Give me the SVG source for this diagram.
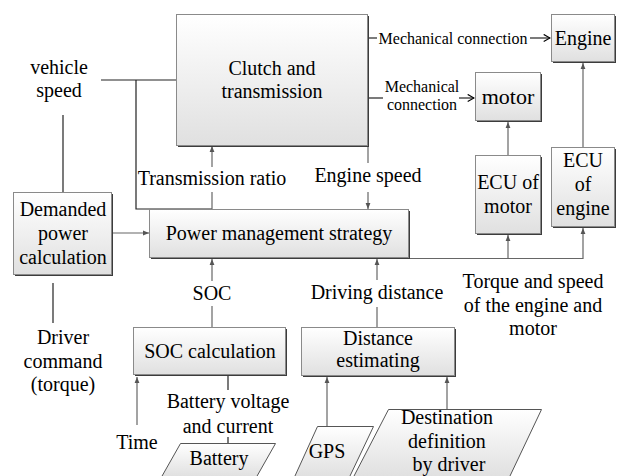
<svg xmlns="http://www.w3.org/2000/svg" width="624" height="476" viewBox="0 0 624 476" font-family="'Liberation Serif', 'Times New Roman', serif">
<defs>
<linearGradient id="g" x1="0" y1="0" x2="0" y2="1"><stop offset="0" stop-color="#ffffff"/><stop offset="1" stop-color="#e0e0e0"/></linearGradient>
<marker id="a" viewBox="0 0 10 10" refX="10" refY="5" markerWidth="6" markerHeight="6" markerUnits="userSpaceOnUse" orient="auto"><path d="M0,1 L10,5 L0,9 z" fill="#555"/></marker>
<marker id="m" viewBox="0 0 10 10" refX="9" refY="5" markerWidth="9" markerHeight="9" markerUnits="userSpaceOnUse" orient="auto"><path d="M2,1 L9,5 L2,9" fill="none" stroke="#000" stroke-width="1.3"/></marker>
</defs>
<style>
.box{fill:url(#g);stroke:#8a8a8a;stroke-width:1}
.sh{fill:#3c3c3c}
.para{fill:url(#g);stroke:#555;stroke-width:1}
text{font-family:'Liberation Serif','Times New Roman',serif;font-size:20px;fill:#000;text-anchor:middle}
.s{font-size:16px}
.c{fill:none;stroke:#666;stroke-width:1.2}
.k{fill:none;stroke:#222;stroke-width:1.2}
</style>

<g id="connectors">
<path class="k" d="M101,80 H176"/>
<path class="k" d="M136,80 V209 H212"/>
<path class="k" d="M63,115 V192"/>
<path class="c" d="M112,233 H149" marker-end="url(#a)"/>
<path class="k" d="M53,283 V323"/>
<path class="c" d="M212,209 V192"/>
<path class="c" d="M212,167 V146" marker-end="url(#a)"/>
<path class="c" d="M368,146 V163"/>
<path class="c" d="M368,192 V209" marker-end="url(#a)"/>
<path class="c" d="M212,327 V306"/>
<path class="c" d="M212,281 V259" marker-end="url(#a)"/>
<path class="c" d="M377,327 V307"/>
<path class="c" d="M377,280 V259" marker-end="url(#a)"/>
<path class="c" d="M410,258.5 H583 V228" marker-end="url(#a)"/>
<path class="c" d="M508,258.5 V235" marker-end="url(#a)"/>
<path class="c" d="M508,155 V122" marker-end="url(#a)"/>
<path class="c" d="M583,147 V63" marker-end="url(#a)"/>
<path class="k" d="M368,38 H377"/>
<path class="k" d="M530,38 H550" marker-end="url(#m)"/>
<path class="k" d="M368,98 H383"/>
<path class="k" d="M459,98 H474" marker-end="url(#m)"/>
<path class="k" d="M228,376 V390"/>
<path class="k" d="M228,437 V444"/>
<path class="c" d="M137,425 V377" marker-end="url(#a)"/>
<path class="c" d="M327,426 V377" marker-end="url(#a)"/>
<path class="c" d="M447,409 V377" marker-end="url(#a)"/>
</g>

<g id="clutch">
<rect class="sh" x="178" y="16" width="191" height="131"/>
<rect class="box" x="176.5" y="14.5" width="191" height="131"/>
<text x="272" y="75">Clutch and</text>
<text x="272" y="98">transmission</text>
</g>

<g id="engine">
<rect class="sh" x="553" y="16" width="63" height="47"/>
<rect class="box" x="551.5" y="14.5" width="63" height="47"/>
<text x="583" y="45">Engine</text>
</g>

<g id="motor">
<rect class="sh" x="477" y="74" width="65" height="48"/>
<rect class="box" x="475.5" y="72.5" width="65" height="48"/>
<text x="508" y="104" style="font-size:22px">motor</text>
</g>

<g id="ecu-motor">
<rect class="sh" x="477" y="157" width="65" height="78"/>
<rect class="box" x="475.5" y="155.5" width="65" height="78"/>
<text x="508" y="189">ECU of</text>
<text x="508" y="213">motor</text>
</g>

<g id="ecu-engine">
<rect class="sh" x="553" y="149" width="63" height="79"/>
<rect class="box" x="551.5" y="147.5" width="63" height="79"/>
<text x="583" y="167">ECU</text>
<text x="583" y="191">of</text>
<text x="583" y="215">engine</text>
</g>

<g id="power">
<rect class="sh" x="151" y="211" width="259" height="48"/>
<rect class="box" x="149.5" y="209.5" width="259" height="48"/>
<text x="279" y="240">Power management strategy</text>
</g>

<g id="demanded">
<rect class="sh" x="15" y="194" width="98" height="82"/>
<rect class="box" x="13.5" y="192.5" width="98" height="82"/>
<text x="63" y="216">Demanded</text>
<text x="63" y="240">power</text>
<text x="63" y="264">calculation</text>
</g>

<g id="soc-calc">
<rect class="sh" x="135" y="329" width="152" height="47"/>
<rect class="box" x="133.5" y="327.5" width="152" height="47"/>
<text x="210" y="358">SOC calculation</text>
</g>

<g id="distance">
<rect class="sh" x="303" y="329" width="153" height="48"/>
<rect class="box" x="301.5" y="327.5" width="153" height="48"/>
<text x="378" y="345">Distance</text>
<text x="378" y="367">estimating</text>
</g>

<g id="battery">
<polygon class="para" points="180.5,443.5 275.5,443.5 256.5,477 161.5,477"/>
<text x="219" y="465">Battery</text>
</g>

<g id="gps">
<polygon class="para" points="317.5,426.5 373.5,426.5 349.5,477 294.5,477"/>
<text x="327" y="458">GPS</text>
</g>

<g id="destination">
<polygon class="para" points="388.5,409.5 541.5,409.5 509.5,477 353.5,477"/>
<text x="447" y="424">Destination</text>
<text x="447" y="448">definition</text>
<text x="449" y="471">by driver</text>
</g>

<g id="labels">
<text x="59" y="74">vehicle</text>
<text x="59" y="97">speed</text>
<text x="212" y="185">Transmission ratio</text>
<text x="368" y="182">Engine speed</text>
<text x="212" y="300">SOC</text>
<text x="377" y="299">Driving distance</text>
<text x="533" y="288">Torque and speed</text>
<text x="533" y="312">of the engine and</text>
<text x="533" y="335">motor</text>
<text x="63" y="344">Driver</text>
<text x="63" y="368">command</text>
<text x="63" y="391">(torque)</text>
<text x="137" y="449">Time</text>
<text x="228" y="408">Battery voltage</text>
<text x="228" y="433">and current</text>
<text class="s" x="453" y="44">Mechanical connection</text>
<text class="s" x="422" y="92">Mechanical</text>
<text class="s" x="422" y="110">connection</text>
</g>
</svg>
